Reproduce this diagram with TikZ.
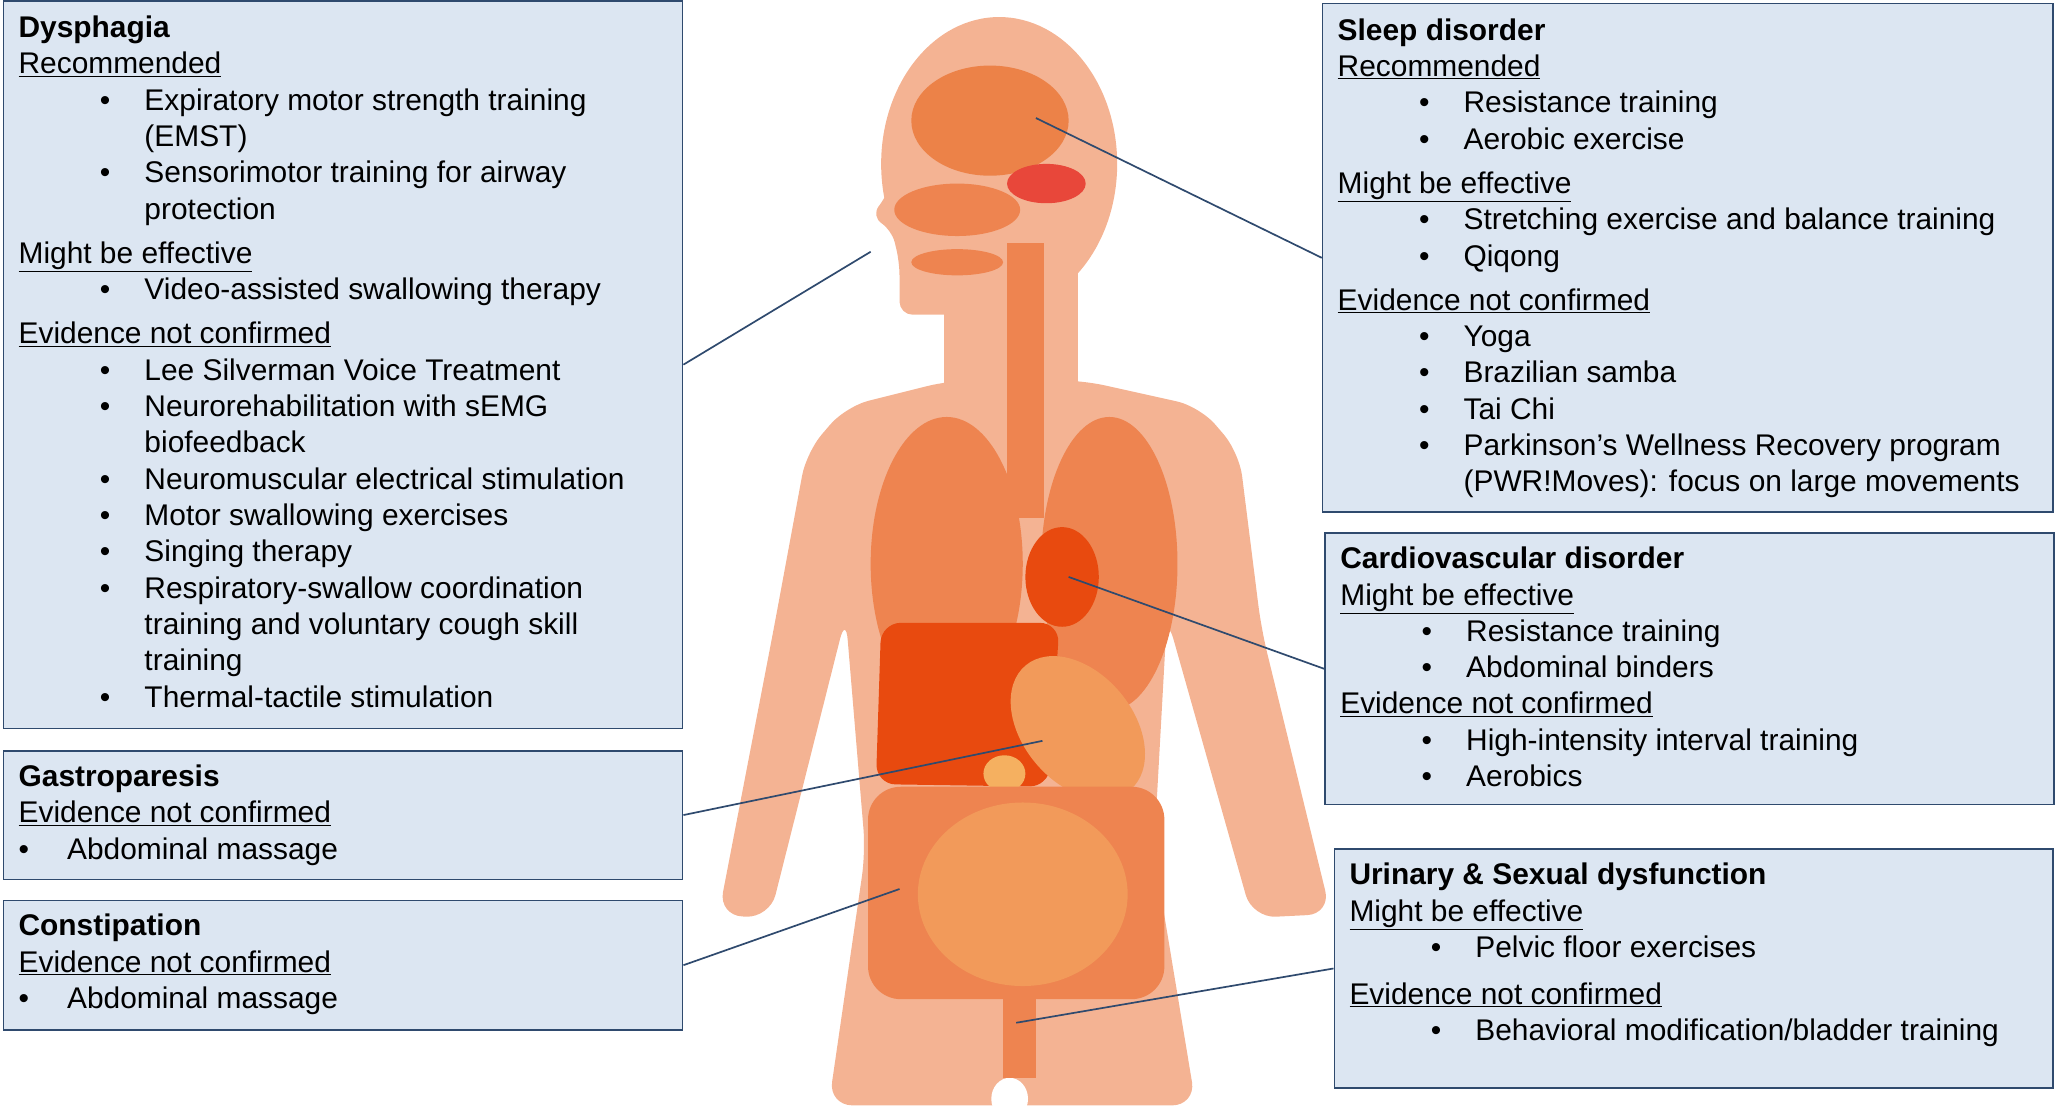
\documentclass[tikz,border=0pt]{standalone}
\usepackage{fontspec}
\setmainfont{Liberation Sans}
\usetikzlibrary{positioning}
\definecolor{boxfill}{HTML}{DCE6F2}
\definecolor{boxline}{HTML}{2F4A6E}
\definecolor{skin}{HTML}{F4B393}
\definecolor{organ}{HTML}{EE8450}
\definecolor{organdark}{HTML}{E84A0F}
\definecolor{organlight}{HTML}{F29A5A}
\definecolor{brain}{HTML}{EC8248}
\definecolor{cereb}{HTML}{E8473A}
\definecolor{gall}{HTML}{F5B060}
\newcommand{\itm}[1]{\hspace*{62pt}\makebox[34pt][l]{\textbullet}#1\\}
\newcommand{\cnt}[1]{\hspace*{96pt}#1\\}
\newcommand{\itmshort}[1]{\makebox[37pt][l]{\textbullet}#1\\}
\begin{document}
\begin{tikzpicture}[x=1pt,y=-1pt,
  box/.style={draw=boxline, fill=boxfill, line width=1.2pt, inner sep=0pt, anchor=north west},
  boxtext/.style={anchor=north west, align=left, inner sep=0pt, font=\fontsize{22.8}{27.7}\selectfont},
  link/.style={draw=boxline, line width=1.3pt}]
\useasboundingbox (0,0) rectangle (1568,843);
% body
\fill[skin, rounded corners=18pt] (725,290) -- (645,310) -- (615,345) -- (590,480) -- (548,698) -- (587,700) -- (645,470)
  -- (660,650) -- (632,843) -- (912,843) -- (880,650) -- (890,470) -- (955,700) -- (1015,697) -- (962,480)
  -- (945,345) -- (915,310) -- (825,290) -- cycle;
\fill[skin] (762,125) ellipse [x radius=90, y radius=112];
\fill[skin] (720,200) rectangle (822,320);
\fill[skin, rounded corners=10pt] (690,110) -- (676,150) -- (664,165) -- (680,175) -- (686,200) -- (686,240) -- (740,240) -- (740,110) -- cycle;
\fill[white] (770,838) ellipse [x radius=14, y radius=16];
% organs
\fill[brain] (755,92) ellipse [x radius=60, y radius=42];
\fill[cereb] (798,140) ellipse [x radius=30, y radius=15];
\fill[organ] (730,160) ellipse [x radius=48, y radius=20];
\fill[organ] (730,200) ellipse [x radius=35, y radius=10];
\fill[organ] (768,185) rectangle (796,395);
\fill[organ] (722,430) ellipse [x radius=58, y radius=112];
\fill[organ] (846,430) ellipse [x radius=52, y radius=112];
\fill[organdark] (810,440) ellipse [x radius=28, y radius=38];
\fill[organdark, rounded corners=15pt] (672,475) -- (808,475) -- (800,600) -- (668,598) -- cycle;
\fill[organlight, rotate around={40:(822,555)}] (822,555) ellipse [x radius=42, y radius=62];
\fill[gall] (766,590) ellipse [x radius=16, y radius=14];
\fill[organ, rounded corners=25pt] (662,600) rectangle (888,762);
\fill[organlight] (780,682) ellipse [x radius=80, y radius=70];
\fill[organ] (765,760) rectangle (790,822);
% anchors on the figure
\coordinate (brainpt) at (790,90);
\coordinate (mouthpt) at (664,192);
\coordinate (heartpt) at (815,440);
\coordinate (stomachpt) at (795,565);
\coordinate (colonpt) at (686,678);
\coordinate (pelvispt) at (775,780);
% boxes
\node[box, minimum width=518, minimum height=555] (dys) at (2,0) {};
\node[boxtext] at (14,12) {\textbf{Dysphagia}\\
\underline{Recommended}\\
\itm{Expiratory motor strength training}
\cnt{(EMST)}
\itm{Sensorimotor training for airway}
\cnt{protection}[6pt]
\underline{Might be effective}\\
\itm{Video-assisted swallowing therapy}[6pt]
\underline{Evidence not confirmed}\\
\itm{Lee Silverman Voice Treatment}
\itm{Neurorehabilitation with sEMG}
\cnt{biofeedback}
\itm{Neuromuscular electrical stimulation}
\itm{Motor swallowing exercises}
\itm{Singing therapy}
\itm{Respiratory-swallow coordination}
\cnt{training and voluntary cough skill}
\cnt{training}
\itm{Thermal-tactile stimulation}};
\node[box, minimum width=518, minimum height=98] (gas) at (2,572) {};
\node[boxtext] at (14,583) {\textbf{Gastroparesis}\\
\underline{Evidence not confirmed}\\
\itmshort{Abdominal massage}};
\node[box, minimum width=518, minimum height=99] (con) at (2,686) {};
\node[boxtext] at (14,697) {\textbf{Constipation}\\
\underline{Evidence not confirmed}\\
\itmshort{Abdominal massage}};
\node[box, minimum width=557, minimum height=388] (sle) at (1008,2) {};
\node[boxtext] at (1020,14) {\textbf{Sleep disorder}\\
\underline{Recommended}\\
\itm{Resistance training}
\itm{Aerobic exercise}[6pt]
\underline{Might be effective}\\
\itm{Stretching exercise and balance training}
\itm{Qiqong}[6pt]
\underline{Evidence not confirmed}\\
\itm{Yoga}
\itm{Brazilian samba}
\itm{Tai Chi}
\itm{Parkinson’s Wellness Recovery program}
\cnt{(PWR!Moves): focus on large movements}};
\node[box, minimum width=556, minimum height=207] (car) at (1010,406) {};
\node[boxtext] at (1022,417) {\textbf{Cardiovascular disorder}\\
\underline{Might be effective}\\
\itm{Resistance training}
\itm{Abdominal binders}
\underline{Evidence not confirmed}\\
\itm{High-intensity interval training}
\itm{Aerobics}};
\node[box, minimum width=548, minimum height=182] (uri) at (1017,647) {};
\node[boxtext] at (1029,658) {\textbf{Urinary \& Sexual dysfunction}\\
\underline{Might be effective}\\
\itm{Pelvic floor exercises}[8pt]
\underline{Evidence not confirmed}\\
\itm{Behavioral modification/bladder training}};
% connectors
\draw[link] (dys.east) -- (mouthpt);
\draw[link] (gas.east) -- (stomachpt);
\draw[link] (con.east) -- (colonpt);
\draw[link] (sle.west) -- (brainpt);
\draw[link] (car.west) -- (heartpt);
\draw[link] (uri.west) -- (pelvispt);
\end{tikzpicture}
\end{document}
